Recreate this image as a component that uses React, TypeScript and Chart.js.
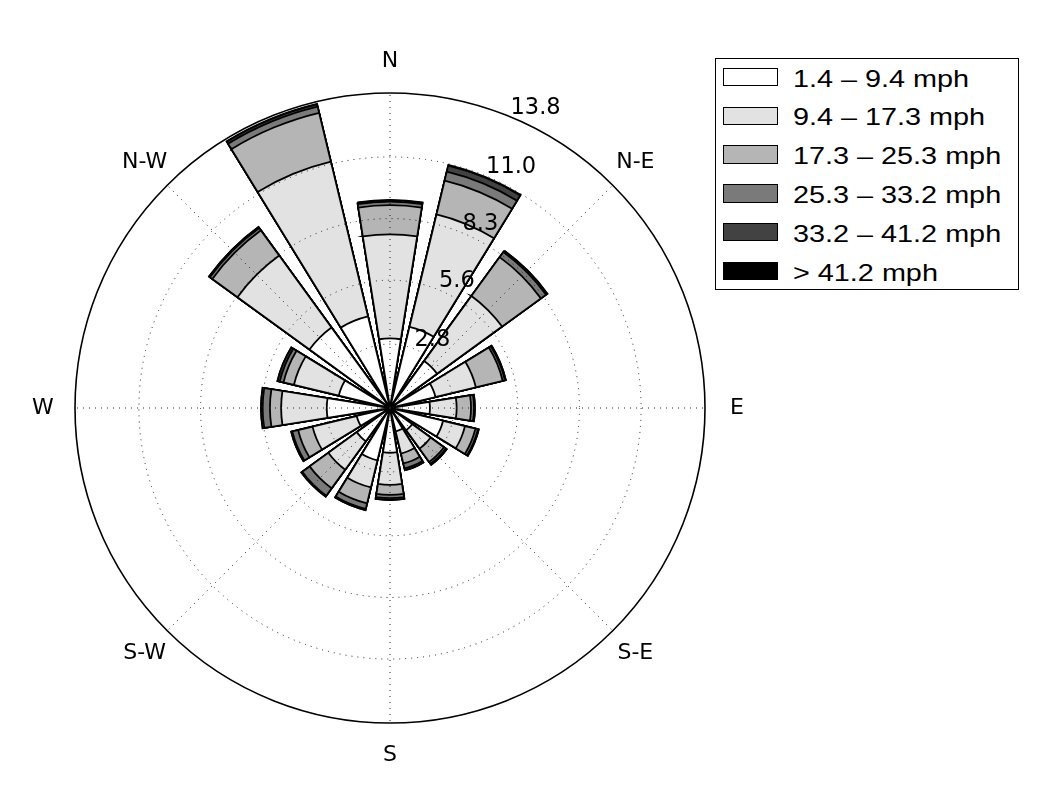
import React, { useEffect, useRef } from "react";
import { Chart, registerables } from "chart.js";

Chart.register(...registerables);

// 16 sectors, clockwise from north
const directions = ["N", "NNE", "NE", "ENE", "E", "ESE", "SE", "SSE", "S", "SSW", "SW", "WSW", "W", "WNW", "NW", "NNW"];
const axisLabels = ["N", "N-E", "E", "S-E", "S", "S-W", "W", "N-W"];
const tickValues = [2.8, 5.6, 8.3, 11.0, 13.8];
const tickLabels = ["2.8", "5.6", "8.3", "11.0", "13.8"];
const binLabels = ["1.4 \u2013 9.4 mph", "9.4 \u2013 17.3 mph", "17.3 \u2013 25.3 mph", "25.3 \u2013 33.2 mph", "33.2 \u2013 41.2 mph", "> 41.2 mph"];
const binColors = ["#ffffff", "#e2e2e2", "#b5b5b5", "#7a7a7a", "#424242", "#000000"];

// frequency (%) of each speed bin per direction
const bin1 = [3.05, 3.66, 2.55, 2.05, 1.75, 2.39, 1.2, 1.05, 1.96, 2.36, 1.8, 1.5, 2.77, 2.31, 4.36, 4.13];
const bin2 = [4.56, 5.06, 3.52, 1.82, 1.17, 0.99, 1.0, 1.0, 1.41, 1.22, 1.54, 1.99, 2.0, 2.02, 3.9, 6.97];
const bin3 = [1.28, 1.52, 2.1, 1.21, 0.63, 0.47, 0.72, 0.45, 0.44, 0.72, 1.01, 0.65, 0.49, 0.47, 1.36, 2.2];
const bin4 = [0.15, 0.41, 0.28, 0.1, 0.13, 0.11, 0.1, 0.22, 0.14, 0.25, 0.4, 0.26, 0.32, 0.17, 0.13, 0.28];
const bin5 = [0.06, 0.27, 0.07, 0.04, 0.04, 0.04, 0.05, 0.08, 0.08, 0.05, 0.05, 0.05, 0.07, 0.1, 0.05, 0.1];
const bin6 = [0.02, 0.03, 0, 0, 0, 0, 0, 0, 0, 0, 0, 0, 0, 0, 0, 0.02];

const R_MAX = 13.8;
const BAR_ANGLE = 18;
const GAP_ANGLE = 4.5;

export default function App() {
  const ref = useRef<HTMLCanvasElement | null>(null);

  useEffect(() => {
    if (!ref.current) return;
    const bins = [bin1, bin2, bin3, bin4, bin5, bin6];
    const cumulative = bins.map((_, k) =>
      directions.map((_, d) => bins.slice(0, k + 1).reduce((s, b) => s + b[d], 0))
    );
    const labels32 = directions.flatMap((d) => [d, ""]);

    const datasets = cumulative.map((vals, k) => ({
      label: binLabels[k],
      data: vals.flatMap((v) => [v, 0]),
      backgroundColor: (c: any) => (c.dataIndex % 2 ? "rgba(0,0,0,0)" : binColors[k]),
      borderColor: "#000000",
      borderWidth: (c: any) => (c.dataIndex % 2 ? 0 : 1.8),
      borderJoinStyle: "miter",
      angle: (c: any) => (c.dataIndex % 2 ? GAP_ANGLE : BAR_ANGLE),
    }));

    const setTicks = (s: any) => {
      s.ticks = [0, ...tickValues].map((v) => ({ value: v }));
    };

    const textPlugin = {
      id: "roseText",
      afterDraw(chart: any) {
        const s = chart.scales.r2;
        const ctx = chart.ctx;
        ctx.save();
        ctx.fillStyle = "#000";
        ctx.font = '22px "DejaVu Sans"';
        ctx.textAlign = "center";
        ctx.textBaseline = "middle";
        axisLabels.forEach((lab, i) => {
          const p = s.getPointPosition(i, s.drawingArea + 32);
          ctx.fillText(lab, p.x, p.y);
        });
        ctx.font = '22.5px "DejaVu Sans"';
        ctx.textAlign = "left";
        ctx.textBaseline = "alphabetic";
        const a = (22.5 * Math.PI) / 180;
        tickValues.forEach((v, i) => {
          const r = s.getDistanceFromCenterForValue(v);
          ctx.fillText(tickLabels[i], s.xCenter + r * Math.sin(a), s.yCenter - r * Math.cos(a) - 3);
        });
        ctx.restore();
      },
    };

    const last = tickValues.length;
    const chart = new Chart(ref.current, {
      type: "polarArea",
      data: { labels: labels32, datasets: datasets as any },
      options: {
        responsive: false,
        animation: false,
        devicePixelRatio: 1,
        layout: { padding: { left: 75, top: 93, right: 333, bottom: 69 } },
        plugins: { legend: { display: false }, tooltip: { enabled: false } },
        scales: {
          r: {
            type: "radialLinear",
            startAngle: -BAR_ANGLE / 2,
            min: 0,
            max: R_MAX,
            afterBuildTicks: setTicks,
            grid: { display: false },
            angleLines: { display: false },
            ticks: { display: false },
            pointLabels: { display: false },
          },
          r2: {
            type: "radialLinear",
            axis: "r",
            startAngle: 0,
            min: 0,
            max: R_MAX,
            labels: axisLabels,
            afterBuildTicks: setTicks,
            ticks: { display: false, z: 1 },
            grid: {
              display: true,
              circular: true,
              z: 1,
              color: (c: any) => (c.index === last ? "#000000" : "#222222"),
              lineWidth: (c: any) => (c.index === last ? 1.6 : 1),
            },
            border: { z: 1, dash: (c: any) => (c.index === last ? [] : [1, 5]) },
            angleLines: { display: true, color: "#222222", lineWidth: 1, borderDash: [1, 5] },
            pointLabels: { display: false },
          },
        } as any,
      },
      plugins: [textPlugin],
    } as any);
    return () => chart.destroy();
  }, []);

  return (
    <div style={{ position: "absolute", left: 0, top: 0, width: 1038, height: 792, background: "#fff" }}>
      <canvas ref={ref} width={1038} height={792} style={{ position: "absolute", left: 0, top: 0, width: 1038, height: 792 }} />
      <div
        style={{
          position: "absolute",
          left: 715,
          top: 58,
          width: 304,
          height: 232,
          border: "1.5px solid #000",
          boxSizing: "border-box",
          background: "#fff",
        }}
      >
        {binLabels.map((lab, i) => (
          <React.Fragment key={lab}>
            <div
              style={{
                position: "absolute",
                left: 7,
                top: 8.8 + i * 38.8,
                width: 55,
                height: 18.4,
                boxSizing: "border-box",
                border: "1.5px solid #000",
                background: binColors[i],
              }}
            />
            <div
              style={{
                position: "absolute",
                left: 76.5,
                top: 7.5 + i * 38.8,
                font: '24px "Liberation Sans", Arial, sans-serif',
                lineHeight: "24px",
                whiteSpace: "nowrap",
                color: "#000",
                transform: "scaleX(1.2)",
                transformOrigin: "left center",
              }}
            >
              {lab}
            </div>
          </React.Fragment>
        ))}
      </div>
    </div>
  );
}
